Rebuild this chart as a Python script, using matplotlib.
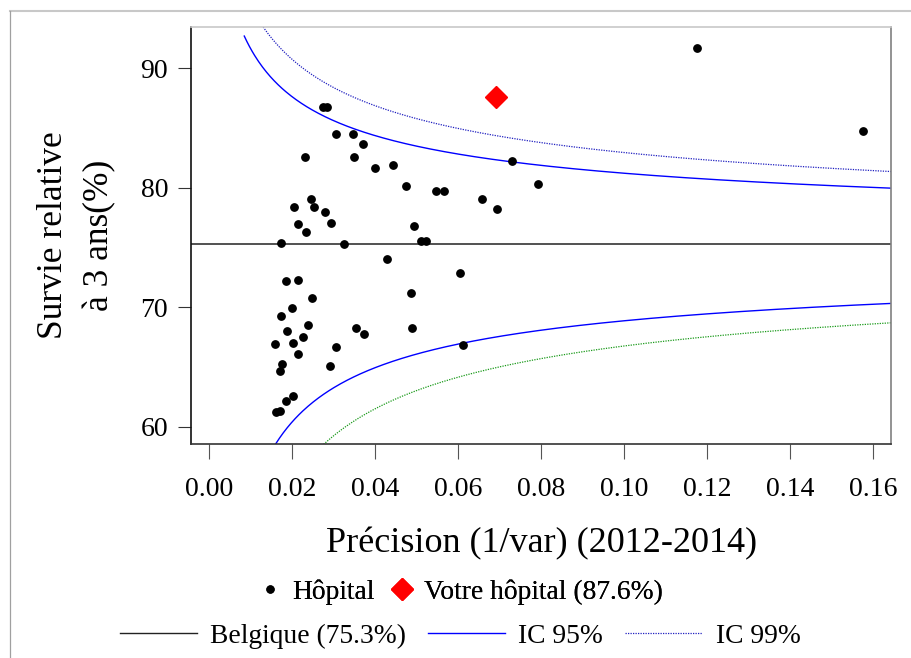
import numpy as np
import matplotlib.pyplot as plt
from matplotlib.lines import Line2D

plt.rcParams['font.family'] = ['Liberation Serif', 'DejaVu Serif']

# hôpitaux : précision (1/var) et survie relative à 3 ans (%)
precision = [0.0274, 0.0284, 0.0307, 0.0347, 0.0372, 0.0231, 0.0350, 0.0400,
             0.0444, 0.0475, 0.0546, 0.0567, 0.0246, 0.0206, 0.0252, 0.0280,
             0.0215, 0.0293, 0.0234, 0.0494, 0.0510, 0.0523, 0.0173, 0.0326,
             0.0429, 0.0186, 0.0214, 0.0248, 0.0488, 0.0199, 0.0173, 0.0239,
             0.0187, 0.0227, 0.0355, 0.0373, 0.0490, 0.0160, 0.0203, 0.0307,
             0.0215, 0.0176, 0.0172, 0.0292, 0.0203, 0.0186, 0.0162, 0.0171,
             0.0731, 0.0793, 0.0657, 0.0693, 0.0605, 0.0612, 0.1177, 0.1577]
survie = [86.80, 86.80, 84.48, 84.48, 83.64, 82.55, 82.58, 81.66,
          81.93, 80.18, 79.76, 79.76, 79.06, 78.42, 78.39, 78.00,
          77.00, 77.05, 76.33, 76.80, 75.52, 75.57, 75.38, 75.27,
          74.02, 72.20, 72.26, 70.78, 71.22, 69.97, 69.27, 68.52,
          68.02, 67.54, 68.24, 67.77, 68.27, 66.95, 66.99, 66.68,
          66.12, 65.26, 64.64, 65.11, 62.60, 62.16, 61.21, 61.35,
          82.22, 80.29, 79.09, 78.23, 72.90, 66.82, 91.72, 84.73]

votre_precision = 0.0692
votre_survie = 87.6

belgique = 75.3
z95 = 1.96
z99 = 2.576

x_ticks = [0.00, 0.02, 0.04, 0.06, 0.08, 0.10, 0.12, 0.14, 0.16]
y_ticks = [60, 70, 80, 90]


def limites(prec, z):
    # limites de contrôle (transformation arcsinus)
    p = belgique / 100
    se = 1 / np.sqrt(prec) / 100
    g = np.arcsin(np.sqrt(p))
    se_g = se / (2 * np.sqrt(p * (1 - p)))
    up = np.sin(np.clip(g + z * se_g, 0, np.pi / 2)) ** 2 * 100
    lo = np.sin(np.clip(g - z * se_g, 0, np.pi / 2)) ** 2 * 100
    return lo, up


fig = plt.figure(figsize=(9.11, 6.58), dpi=100)
ax = fig.add_axes([191 / 911, 1 - 444 / 658, (890.7 - 191) / 911, (444 - 26.7) / 658])

grid = np.linspace(0.0085, 0.1650, 500)
lo95, up95 = limites(grid, z95)
lo99, up99 = limites(grid, z99)

ax.axhline(belgique, color='#222222', lw=1.1)
ax.plot(grid, up95, color='#0000ff', lw=1.0)
ax.plot(grid, lo95, color='#0000ff', lw=1.0)
ax.plot(grid, up99, color='#2020c0', lw=0.9, linestyle=(0, (1, 1)))
ax.plot(grid, lo99, color='#1a9a1a', lw=0.9, linestyle=(0, (1, 1)))

ax.plot(precision, survie, 'o', color='black', markersize=5.3, zorder=3)
ax.plot(votre_precision, votre_survie, 'D', color='#ff0000', markersize=11.5, zorder=4)

ax.set_xlim(-0.00434, 0.1643)
ax.set_ylim(58.55, 93.48)
ax.set_xticks(x_ticks)
ax.set_xticklabels(['%.2f' % t for t in x_ticks])
ax.set_yticks(y_ticks)
ax.tick_params(axis='x', length=11, pad=13, labelsize=20, color='#555555')
ax.tick_params(axis='y', length=9.5, pad=7, labelsize=20, color='#333333')

ax.spines['left'].set_color('#111111')
ax.spines['bottom'].set_color('#333333')
ax.spines['top'].set_color('#c8c8c8')
ax.spines['right'].set_color('#808080')
for s in ax.spines.values():
    s.set_linewidth(1.2)

fig.text(541.5 / 911, 1 - 552 / 658, 'Précision (1/var) (2012-2014)',
         ha='center', va='baseline', fontsize=26)
fig.text(61.7 / 911, 1 - 235 / 658, 'Survie relative', rotation=90,
         rotation_mode='anchor', ha='center', va='baseline', fontsize=25.5)
fig.text(108.3 / 911, 1 - 235 / 658, 'à 3 ans(%)', rotation=90,
         rotation_mode='anchor', ha='center', va='baseline', fontsize=25.5)

h1 = [Line2D([], [], marker='o', color='black', linestyle='none', markersize=5),
      Line2D([], [], marker='D', color='#ff0000', linestyle='none', markersize=11.5)]
leg1 = fig.legend(h1, ['Hôpital', 'Votre hôpital (87.6%)'], loc='center',
                  bbox_to_anchor=(460 / 911, 1 - 592 / 658), ncol=2, frameon=False,
                  fontsize=19.8, handlelength=1.0, handletextpad=0.3,
                  columnspacing=0.5, borderpad=0, borderaxespad=0)

h2 = [Line2D([], [], color='#222222', lw=1.0),
      Line2D([], [], color='#0000ff', lw=1.0),
      Line2D([], [], color='#2020c0', lw=0.9, linestyle=(0, (1, 1)))]
fig.legend(h2, ['Belgique (75.3%)', 'IC 95%', 'IC 99%'], loc='center',
           bbox_to_anchor=(460 / 911, 1 - 636 / 658), ncol=3, frameon=False,
           fontsize=19.8, handlelength=2.8, handletextpad=0.5,
           columnspacing=0.78, borderpad=0, borderaxespad=0)
fig.add_artist(leg1)

# cadre gris de la figure
fig.add_artist(Line2D([10 / 911, 1], [1 - 11 / 658, 1 - 11 / 658],
                      color='#c8c8c8', lw=1.5, transform=fig.transFigure))
fig.add_artist(Line2D([10 / 911, 10 / 911], [0, 1 - 11 / 658],
                      color='#a0a0a0', lw=0.9, transform=fig.transFigure))

fig.savefig('out.png', dpi=100)
